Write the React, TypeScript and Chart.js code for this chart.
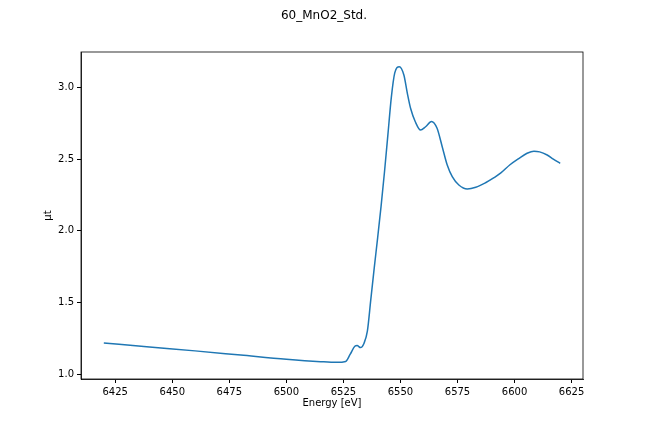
import React, { useEffect, useRef } from 'react';
import Chart from 'chart.js/auto';

const chartTitle = '60_MnO2_Std.';
const xLabel = 'Energy [eV]';
const yLabel = 'μt';

// energy [eV] and absorption
const energy = [
  6420, 6440, 6460, 6480, 6500, 6515, 6522, 6526, 6528, 6530, 6531, 6532.5,
  6534, 6535.5, 6537, 6538.5, 6540, 6541.5, 6543, 6544.5, 6546, 6547.5, 6549.5,
  6551.5, 6553, 6554.5, 6556.5, 6558.8, 6561, 6563.6, 6566, 6568.3, 6570.5,
  6572.7, 6575.6, 6579.3, 6583, 6587.3, 6591, 6594, 6598, 6602, 6605.5, 6608.5,
  6611, 6614.3, 6617, 6620,
];
const mu = [
  1.218, 1.19, 1.163, 1.134, 1.105, 1.088, 1.083, 1.089, 1.14, 1.195, 1.2, 1.186,
  1.215, 1.3, 1.52, 1.74, 1.95, 2.17, 2.41, 2.67, 2.93, 3.1, 3.144,
  3.086, 2.96, 2.85, 2.76, 2.702, 2.725, 2.762, 2.716, 2.586, 2.458,
  2.377, 2.319, 2.291, 2.303, 2.335, 2.37, 2.403, 2.46, 2.505, 2.54, 2.555,
  2.55, 2.528, 2.5, 2.47,
];

const xTicks = [6425, 6450, 6475, 6500, 6525, 6550, 6575, 6600, 6625];
const yTicks = [1.0, 1.5, 2.0, 2.5, 3.0];

const FONT = '"DejaVu Sans", sans-serif';

const framePlugin = {
  id: 'frame',
  afterDraw(chart: any) {
    const { ctx, chartArea: a } = chart;
    ctx.save();
    ctx.strokeStyle = '#000';
    ctx.lineWidth = 0.8;
    ctx.strokeRect(a.left, a.top, a.right - a.left, a.bottom - a.top);
    ctx.fillStyle = '#000';
    ctx.textAlign = 'center';
    ctx.textBaseline = 'middle';
    ctx.font = `12px ${FONT}`;
    ctx.fillText(chartTitle, 324, 16);
    ctx.font = `10px ${FONT}`;
    ctx.fillText(xLabel, (a.left + a.right) / 2, 403);
    ctx.translate(48, (a.top + a.bottom) / 2);
    ctx.rotate(-Math.PI / 2);
    ctx.fillText(yLabel, 0, 0);
    ctx.restore();
  },
};

export default function App() {
  const canvasRef = useRef<HTMLCanvasElement>(null);

  useEffect(() => {
    if (!canvasRef.current) return;
    const chart = new Chart(canvasRef.current, {
      type: 'line',
      data: {
        datasets: [
          {
            data: energy.map((e, i) => ({ x: e, y: mu[i] })),
            borderColor: '#1f77b4',
            borderWidth: 1.5,
            pointRadius: 0,
            cubicInterpolationMode: 'monotone',
            fill: false,
          },
        ],
      },
      options: {
        animation: false,
        responsive: false,
        devicePixelRatio: 1,
        layout: { padding: { top: 52, right: 65, left: 0, bottom: 0 } },
        plugins: { legend: { display: false }, tooltip: { enabled: false } },
        scales: {
          x: {
            type: 'linear',
            min: 6410,
            max: 6630,
            afterBuildTicks: (s: any) => {
              s.ticks = xTicks.map((v) => ({ value: v }));
            },
            afterFit: (s: any) => {
              s.height = 53;
            },
            grid: { drawOnChartArea: false, drawTicks: true, tickLength: 4, color: '#000' },
            border: { display: true, color: '#000', width: 0.8 },
            ticks: {
              color: '#000',
              font: { family: FONT, size: 10 },
              padding: 3,
              maxRotation: 0,
              callback: (v: any) => String(v),
            },
          },
          y: {
            type: 'linear',
            min: 0.967,
            max: 3.246,
            afterBuildTicks: (s: any) => {
              s.ticks = yTicks.map((v) => ({ value: v }));
            },
            afterFit: (s: any) => {
              s.width = 81;
            },
            grid: { drawOnChartArea: false, drawTicks: true, tickLength: 4, color: '#000' },
            border: { display: true, color: '#000', width: 0.8 },
            ticks: {
              color: '#000',
              font: { family: FONT, size: 10 },
              padding: 3,
              callback: (v: any) => Number(v).toFixed(1),
            },
          },
        },
      },
      plugins: [framePlugin],
    });
    return () => chart.destroy();
  }, []);

  return (
    <div style={{ position: 'fixed', left: 0, top: 0, width: 648, height: 432, background: '#fff' }}>
      <canvas ref={canvasRef} width={648} height={432} />
    </div>
  );
}
